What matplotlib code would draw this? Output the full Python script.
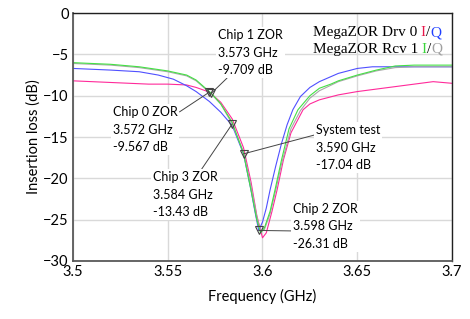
import matplotlib.pyplot as plt

plt.rcParams['font.family'] = ['Lato', 'DejaVu Sans']

# Drv 0 I (pink)
drv0_i_f = [3.50, 3.52, 3.54, 3.55, 3.56, 3.565, 3.572, 3.578, 3.584, 3.59, 3.594, 3.597, 3.600,
            3.602, 3.605, 3.6077, 3.611, 3.615, 3.6214, 3.625, 3.63, 3.64, 3.65, 3.66, 3.67, 3.68, 3.69, 3.70]
drv0_i_db = [-8.2, -8.4, -8.6, -8.6, -8.7, -9.0, -9.567, -10.8, -12.8, -16.3, -20.5, -24.5, -27.2,
             -26.6, -24.0, -21.4, -17.8, -14.5, -11.7, -11.0, -10.5, -9.9, -9.5, -9.2, -8.9, -8.6, -8.3, -8.5]

# Drv 0 Q (blue)
drv0_q_f = [3.50, 3.52, 3.535, 3.545, 3.553, 3.56, 3.565, 3.572, 3.578, 3.584, 3.59, 3.594, 3.596, 3.598,
            3.600, 3.602, 3.604, 3.607, 3.61, 3.613, 3.616, 3.62, 3.625, 3.63, 3.636, 3.64, 3.65, 3.658, 3.67, 3.70]
drv0_q_db = [-6.7, -6.9, -7.1, -7.5, -8.0, -8.8, -9.5, -10.7, -12.0, -13.6, -17.04, -21.5, -24.0, -26.3,
             -25.3, -23.6, -21.4, -18.5, -15.8, -13.5, -11.7, -10.1, -9.0, -8.3, -7.7, -7.3, -6.7, -6.5, -6.5, -6.5]

# Rcv 1 I (green)
rcv1_i_f = [3.50, 3.52, 3.535, 3.55, 3.56, 3.565, 3.573, 3.578, 3.584, 3.59, 3.594, 3.597, 3.599,
            3.601, 3.604, 3.6066, 3.61, 3.614, 3.6187, 3.625, 3.63, 3.636, 3.64, 3.65, 3.66, 3.67, 3.68, 3.70]
rcv1_i_db = [-6.0, -6.2, -6.5, -7.0, -7.5, -8.1, -9.709, -11.0, -13.2, -17.0, -21.5, -25.0, -26.6,
             -26.0, -24.0, -21.4, -17.8, -14.0, -11.7, -10.0, -9.1, -8.6, -8.2, -7.5, -6.9, -6.4, -6.3, -6.3]

# Rcv 1 Q (gray)
rcv1_q_f = [3.50, 3.52, 3.535, 3.55, 3.56, 3.565, 3.573, 3.578, 3.584, 3.59, 3.594, 3.597, 3.599,
            3.601, 3.604, 3.607, 3.61, 3.615, 3.62, 3.625, 3.63, 3.64, 3.65, 3.66, 3.67, 3.68, 3.70]
rcv1_q_db = [-6.1, -6.3, -6.6, -7.1, -7.6, -8.2, -9.8, -11.0, -13.43, -16.8, -21.0, -24.6, -26.5,
             -26.2, -24.3, -21.4, -18.3, -14.0, -11.8, -10.3, -9.4, -8.3, -7.6, -7.0, -6.6, -6.5, -6.5]

# annotated points
ann_labels = ["Chip 1 ZOR", "Chip 0 ZOR", "Chip 3 ZOR", "System test", "Chip 2 ZOR"]
ann_f = [3.573, 3.572, 3.584, 3.590, 3.598]
ann_db = [-9.709, -9.567, -13.43, -17.04, -26.31]
ann_text_f = [3.5765, 3.5211, 3.5422, 3.6282, 3.6161]
ann_text_db = [-4.8, -14.1, -22.0, -16.3, -25.8]
ann_relpos = [(0.17, 0.0), (1.0, 0.85), (0.73, 1.0), (0.0, 0.78), (0.0, 0.4)]

x_ticks = [3.5, 3.55, 3.6, 3.65, 3.7]
x_tick_labels = ["3.5", "3.55", "3.6", "3.65", "3.7"]
y_ticks = [0, -5, -10, -15, -20, -25, -30]

fig = plt.figure(figsize=(4.7, 3.19), dpi=100)
ax = fig.add_axes([0.155, 0.182, 0.807, 0.777])

ax.plot(drv0_i_f, drv0_i_db, color='#ff2a9a', lw=0.8)
ax.plot(drv0_q_f, drv0_q_db, color='#5050ff', lw=0.8)
ax.plot(rcv1_q_f, rcv1_q_db, color='#a8a8a8', lw=0.8)
ax.plot(rcv1_i_f, rcv1_i_db, color='#44e044', lw=0.8)

ax.plot(ann_f, ann_db, 'v', ms=6, mfc='none', mec='#444444', mew=0.8)

for i in range(len(ann_labels)):
    label = f"{ann_labels[i]}\n{ann_f[i]:.3f} GHz\n{ann_db[i]} dB"
    ax.annotate(label, xy=(ann_f[i], ann_db[i]), xytext=(ann_text_f[i], ann_text_db[i]),
                ha='left', va='center', fontsize=9, linespacing=1.55,
                bbox=dict(boxstyle='square,pad=0.15', fc='white', ec='none'),
                arrowprops=dict(arrowstyle='-', color='#444444', lw=0.7,
                                relpos=ann_relpos[i], shrinkA=0, shrinkB=0))

ax.set_xlim(3.5, 3.7)
ax.set_ylim(-30, 0)
ax.set_xticks(x_ticks)
ax.set_xticklabels(x_tick_labels)
ax.set_yticks(y_ticks)
ax.tick_params(length=0, labelsize=10.5, pad=3)
ax.grid(True, color='#d9d9d9', lw=1)
ax.set_axisbelow(True)
for s in ['left', 'bottom']:
    ax.spines[s].set_color('#595959')
    ax.spines[s].set_linewidth(1.3)
for s in ['top', 'right']:
    ax.spines[s].set_color('#202020')
    ax.spines[s].set_linewidth(1.0)

ax.set_xlabel("Frequency (GHz)", fontsize=10.5, labelpad=7)
ax.set_ylabel("Insertion loss (dB)", fontsize=10.5, labelpad=2)

# legend built from coloured pieces of text
legend_rows = [["MegaZOR Drv 0 ", "I", "/", "Q"], ["MegaZOR Rcv 1 ", "I", "/", "Q"]]
legend_colors = [["black", "#e8174a", "black", "#2040ff"], ["black", "#3ad43a", "black", "#a0a0a0"]]
legend_y = [0.92, 0.855]
for row, cols, y in zip(legend_rows, legend_colors, legend_y):
    prev = None
    for piece, c in zip(row, cols):
        if prev is None:
            prev = ax.text(0.632, y, piece, transform=ax.transAxes, color=c,
                           family='Liberation Serif', fontsize=11, va='center')
        else:
            prev = ax.annotate(piece, xy=(1, 0), xycoords=prev, va='bottom', color=c,
                               family='Liberation Serif', fontsize=11)

plt.savefig("out.png", dpi=100)
